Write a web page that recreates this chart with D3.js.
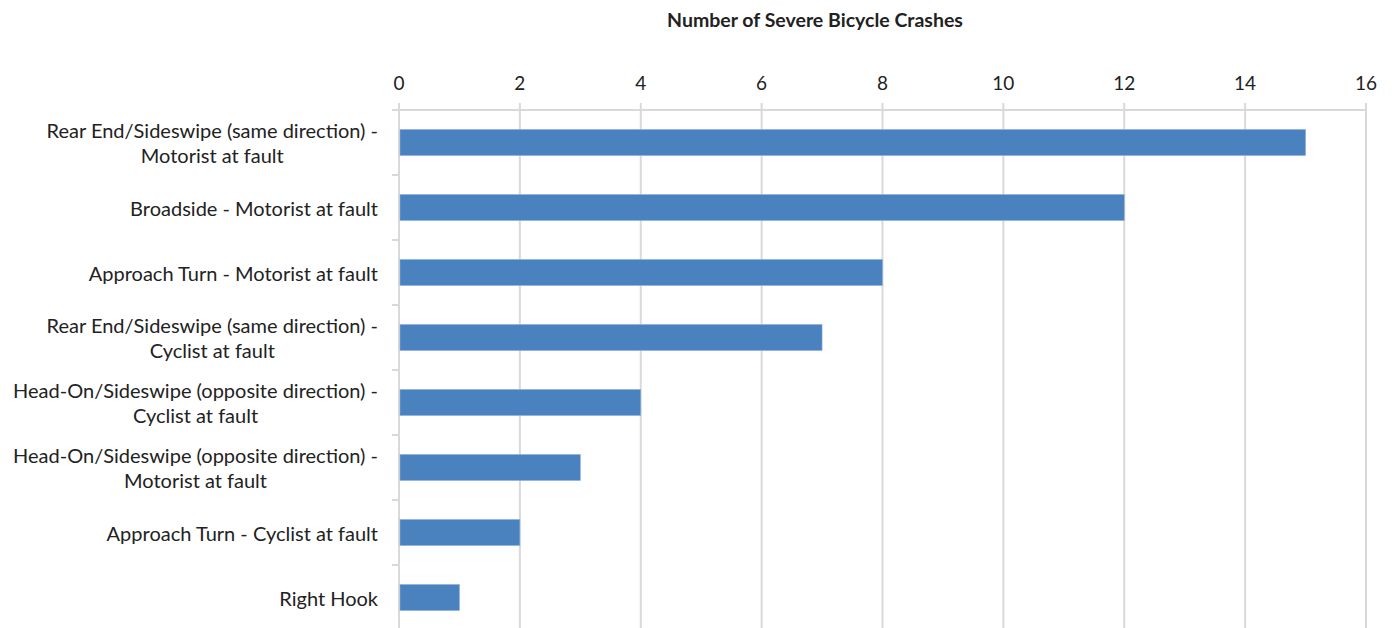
<!DOCTYPE html>
<html><head><meta charset="utf-8">
<script src="https://cdn.jsdelivr.net/npm/d3@7"></script>
<style>
html,body{margin:0;padding:0;background:#fff;}
text{font-family:Lato, "Open Sans", sans-serif;fill:#222;}
</style></head>
<body>
<svg id="chart" width="1395" height="628"></svg>
<script>
const categories = [
  ["Rear End/Sideswipe (same direction) -", "Motorist at fault"],
  ["Broadside - Motorist at fault"],
  ["Approach Turn - Motorist at fault"],
  ["Rear End/Sideswipe (same direction) -", "Cyclist at fault"],
  ["Head-On/Sideswipe (opposite direction) -", "Cyclist at fault"],
  ["Head-On/Sideswipe (opposite direction) -", "Motorist at fault"],
  ["Approach Turn - Cyclist at fault"],
  ["Right Hook"]
];
const values = [15, 12, 8, 7, 4, 3, 2, 1];
const xTicks = [0, 2, 4, 6, 8, 10, 12, 14, 16];
const title = "Number of Severe Bicycle Crashes";

const svg = d3.select("#chart");
const x = d3.scaleLinear().domain([0, 16]).range([399, 1366]);
const y = d3.scaleBand().domain(d3.range(categories.length)).range([110, 630])
  .paddingInner(0.6).paddingOuter(0.3);
const step = y.step();

// gridlines
svg.append("g").selectAll("line").data(xTicks).join("line")
  .attr("x1", d => x(d)).attr("x2", d => x(d))
  .attr("y1", 103).attr("y2", 628)
  .attr("stroke", "#d9d9d9").attr("stroke-width", 2);

// top axis line
svg.append("line").attr("x1", x(0)).attr("x2", x(16)).attr("y1", 110).attr("y2", 110)
  .attr("stroke", "#d9d9d9").attr("stroke-width", 2);

// left category ticks
const bounds = d3.range(categories.length + 1).map(i => 110 + i * step);
svg.append("g").selectAll("line").data(bounds).join("line")
  .attr("x1", 392).attr("x2", x(0))
  .attr("y1", d => d).attr("y2", d => d)
  .attr("stroke", "#d9d9d9").attr("stroke-width", 2);

// bars
svg.append("g").selectAll("rect").data(values).join("rect")
  .attr("x", x(0) + 1).attr("y", (d, i) => y(i))
  .attr("width", d => x(d) - x(0) - 1).attr("height", y.bandwidth())
  .attr("fill", "#4a81bf").attr("stroke", "#8db0da").attr("stroke-width", 0.6);

// x tick labels
svg.append("g").selectAll("text").data(xTicks).join("text")
  .attr("x", d => x(d)).attr("y", 82).attr("text-anchor", "middle")
  .attr("dominant-baseline", "central").style("font-size", "19px").text(d => d);

// category labels
const labelG = svg.append("g");
categories.forEach((lines, i) => {
  const cy = y(i) + y.bandwidth() / 2;
  const g = labelG.append("g");
  const n = lines.length;
  const texts = lines.map((t, k) => g.append("text")
    .attr("y", cy + (k - (n - 1) / 2) * 24.5)
    .attr("dominant-baseline", "central")
    .style("font-size", "20px").text(t));
  const widths = texts.map(t => t.node().getComputedTextLength());
  const maxW = d3.max(widths);
  texts.forEach((t, k) => t.attr("x", 378 - maxW / 2).attr("text-anchor", "middle"));
});

// title
svg.append("text").attr("x", 815).attr("y", 19).attr("text-anchor", "middle")
  .attr("dominant-baseline", "central").style("font-size", "19.5px").style("font-weight", "bold")
  .text(title);
</script>
</body></html>
